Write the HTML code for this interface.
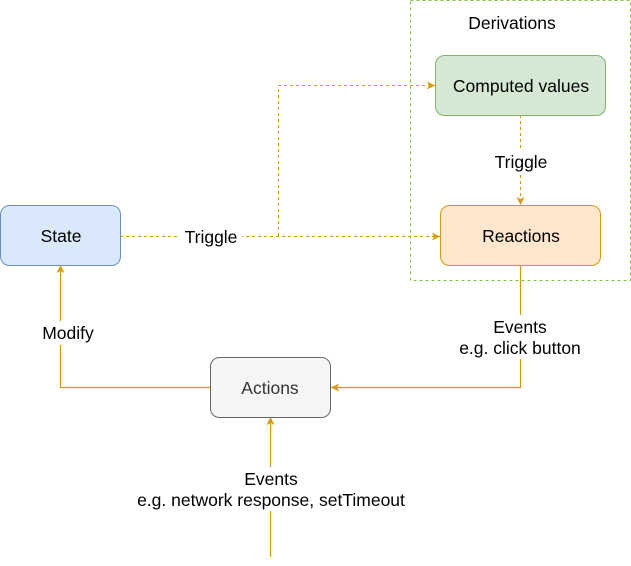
<!DOCTYPE html>
<html><head><meta charset="utf-8"><style>
html,body{margin:0;padding:0;background:#fff;}
svg{display:block;font-family:"Liberation Sans",Arial,sans-serif;font-size:17.5px;}
</style></head><body>
<svg width="631" height="566" viewBox="0 0 631 566" xmlns="http://www.w3.org/2000/svg">
<defs>
<marker id="a" markerWidth="10" markerHeight="10" refX="8" refY="5" orient="auto" markerUnits="userSpaceOnUse">
<path d="M0,1 L8,5 L0,9 L2,5 Z" fill="#d79b00"/>
</marker>
</defs>
<rect x="410.5" y="0.5" width="220" height="280" fill="none" stroke="#82c341" stroke-dasharray="3,3"/>
<text x="512" y="29" text-anchor="middle">Derivations</text>
<g fill="none" stroke="#d79b00" stroke-dasharray="3,3" stroke-width="1">
<path d="M120,236.5 H440" marker-end="url(#a)"/>
<path d="M278.5,236 V85.5 H435" marker-end="url(#a)"/>
<path d="M520.5,115 V205" marker-end="url(#a)"/>
</g>
<g fill="none" stroke="#d79b00" stroke-width="1.2">
<path d="M520.5,265 V387.5 H331" marker-end="url(#a)"/>
<path d="M210,387.5 H60.5 V265" marker-end="url(#a)"/>
<path d="M270.5,557 V417" marker-end="url(#a)"/>
</g>
<rect x="180" y="226" width="62" height="22" fill="#fff"/>
<rect x="488" y="149" width="66" height="24" fill="#fff"/>
<rect x="38" y="321" width="62" height="24" fill="#fff"/>
<rect x="448" y="315" width="144" height="44" fill="#fff"/>
<rect x="125" y="467" width="292" height="44" fill="#fff"/>
<rect x="0.5" y="205.5" width="120" height="60" rx="9" fill="#dae8fc" stroke="#6c8ebf"/>
<text x="61" y="242" text-anchor="middle">State</text>
<rect x="435.5" y="55.5" width="170" height="60" rx="9" fill="#d5e8d4" stroke="#82b366"/>
<text x="521" y="92" text-anchor="middle">Computed values</text>
<rect x="440.5" y="205.5" width="160" height="60" rx="9" fill="#ffe6cc" stroke="#d79b00"/>
<text x="521" y="242" text-anchor="middle">Reactions</text>
<rect x="210.5" y="357.5" width="120" height="60" rx="9" fill="#f5f5f5" stroke="#666"/>
<text x="270" y="394" text-anchor="middle" fill="#333">Actions</text>
<text x="211" y="243" text-anchor="middle">Triggle</text>
<text x="521" y="168" text-anchor="middle">Triggle</text>
<text x="68" y="339" text-anchor="middle">Modify</text>
<text x="520" y="333" text-anchor="middle">Events</text>
<text x="520" y="354" text-anchor="middle">e.g. click button</text>
<text x="271" y="485" text-anchor="middle">Events</text>
<text x="271" y="506" text-anchor="middle">e.g. network response, setTimeout</text>
</svg>
</body></html>
